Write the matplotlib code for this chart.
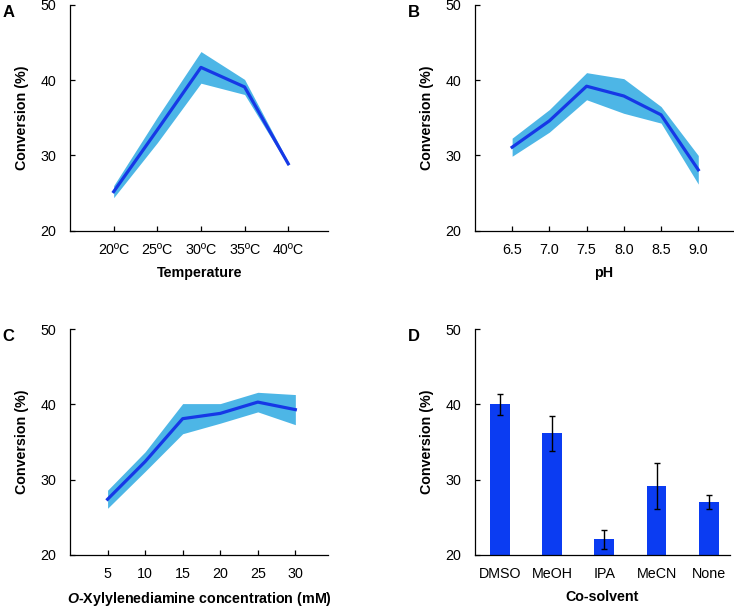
import numpy as np
import matplotlib
matplotlib.use("Agg")
import matplotlib.pyplot as plt

plt.rcParams['font.family'] = ['Liberation Sans', 'DejaVu Sans']
plt.rcParams['mathtext.fontset'] = 'custom'
plt.rcParams['mathtext.rm'] = 'Liberation Sans'
plt.rcParams['mathtext.bfit'] = 'Liberation Sans:bold:italic'

# A: temperature
temp_labels = ["20ºC", "25ºC", "30ºC", "35ºC", "40ºC"]
temp_mean = [25.2, 33.4, 41.7, 39.1, 28.9]
temp_err = [0.8, 1.7, 2.1, 1.0, 0.25]

# B: pH
ph_labels = ["6.5", "7.0", "7.5", "8.0", "8.5", "9.0"]
ph_mean = [31.1, 34.6, 39.2, 37.9, 35.4, 28.1]
ph_err = [1.2, 1.5, 1.8, 2.3, 1.1, 1.9]

# C: diamine concentration
conc_labels = ["5", "10", "15", "20", "25", "30"]
conc_mean = [27.4, 32.4, 38.1, 38.8, 40.3, 39.3]
conc_err = [1.2, 1.3, 2.0, 1.3, 1.3, 2.0]

# D: co-solvent
solv_labels = ["DMSO", "MeOH", "IPA", "MeCN", "None"]
solv_mean = [40.0, 36.15, 22.1, 29.15, 27.0]
solv_err = [1.4, 2.3, 1.25, 3.0, 0.9]

LINE = "#1638e6"
BAND = "#4db6e6"
BAR = "#0b3cf2"
FS = 10.3

fig = plt.figure(figsize=(7.34, 6.09), dpi=100)

def setup(ax, letter):
    ax.spines['top'].set_visible(False)
    ax.spines['right'].set_visible(False)
    ax.spines['left'].set_linewidth(0.9)
    ax.spines['bottom'].set_linewidth(0.9)
    ax.set_ylim(20, 50)
    ax.set_yticks([20, 30, 40, 50])
    ax.tick_params(axis='y', direction='in', length=3.5, width=0.9, labelsize=FS, pad=10)
    ax.tick_params(axis='x', direction='in', length=3.5, width=0.9, labelsize=FS, pad=9)
    ax.set_ylabel("Conversion (%)", fontsize=FS, fontweight='bold', labelpad=8)
    ax.text(-0.262, 1.0, letter, transform=ax.transAxes, fontsize=12,
            fontweight='bold', va='top', ha='left')

def band_plot(ax, labels, mean, err, xlim):
    x = np.arange(len(labels))
    m = np.array(mean)
    e = np.array(err)
    ax.fill_between(x, m - e, m + e, color=BAND, lw=0)
    ax.plot(x, m, color=LINE, lw=2.3)
    ax.set_xticks(x)
    ax.set_xticklabels(labels)
    ax.set_xlim(*xlim)

axA = fig.add_axes([0.0954, 0.621, 0.352, 0.371])
band_plot(axA, temp_labels, temp_mean, temp_err, (-1, 4.92))
setup(axA, "A")
axA.set_xlabel("Temperature", fontsize=FS, fontweight='bold', labelpad=6)

axB = fig.add_axes([0.647, 0.621, 0.351, 0.371])
band_plot(axB, ph_labels, ph_mean, ph_err, (-1, 5.92))
setup(axB, "B")
axB.set_xlabel("pH", fontsize=FS, fontweight='bold', labelpad=6)

axC = fig.add_axes([0.0954, 0.0887, 0.352, 0.371])
band_plot(axC, conc_labels, conc_mean, conc_err, (-1, 5.88))
setup(axC, "C")
axC.set_xlabel(r"$\mathbfit{O}$-Xylylenediamine concentration (mM)",
               fontsize=FS, fontweight='bold', labelpad=6)

axD = fig.add_axes([0.647, 0.0887, 0.347, 0.371])
xd = np.arange(len(solv_labels))
axD.bar(xd, solv_mean, width=0.38, color=BAR,
        yerr=solv_err, error_kw=dict(ecolor='black', elinewidth=1, capsize=2, capthick=1))
axD.set_xticks(xd)
axD.set_xticklabels(solv_labels)
axD.set_xlim(-0.48, 4.4)
setup(axD, "D")
axD.tick_params(axis='x', length=0)
axD.set_xlabel("Co-solvent", fontsize=FS, fontweight='bold', labelpad=6)

fig.savefig("out.png", dpi=100)
